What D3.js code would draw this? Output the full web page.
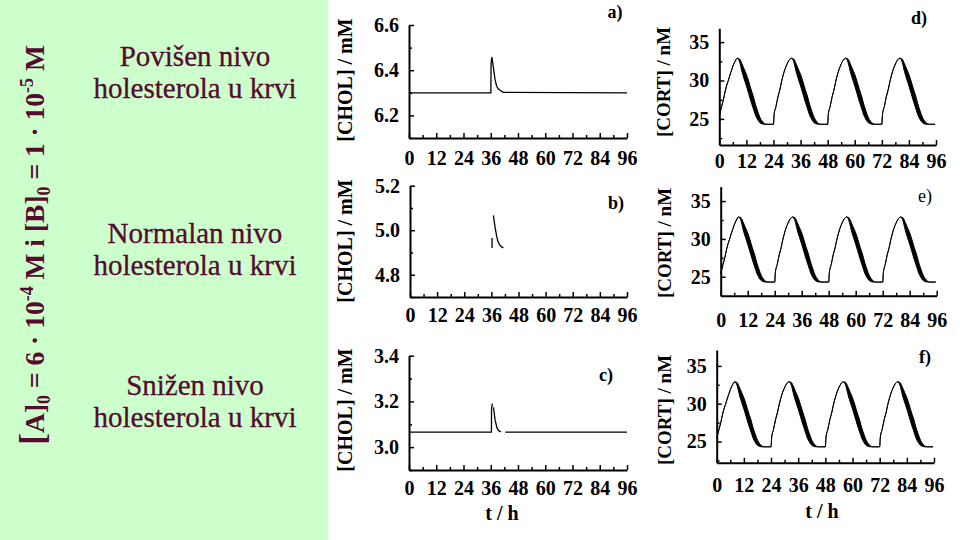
<!DOCTYPE html>
<html><head><meta charset="utf-8">
<script src="https://cdn.jsdelivr.net/npm/d3@7"></script>
<style>body{margin:0;background:#fff}svg{display:block}</style>
</head><body><svg id="c" width="960" height="540"></svg>
<script>
// ---------- data ----------
const hourTicks = [0, 12, 24, 36, 48, 60, 72, 84, 96];
const hourMinorTicks = [6, 18, 30, 42, 54, 66, 78, 90];

const cholHighTicks = [6.2, 6.4, 6.6];
const cholHighMinor = [6.1, 6.3, 6.5];
const cholNormalTicks = [4.8, 5.0, 5.2];
const cholNormalMinor = [4.7, 4.9, 5.1];
const cholLowTicks = [3.0, 3.2, 3.4];
const cholLowMinor = [2.9, 3.1, 3.3];
const cortTicks = [25, 30, 35];
const cortMinor = [22.5, 27.5, 32.5];

// a) elevated cholesterol
const cholHighT = [0, 36.05, 36.15, 36.5, 37.1, 37.9, 38.6, 39.3, 40.1, 41.5, 96];
const cholHighV = [6.3, 6.3, 6.43, 6.458, 6.417, 6.358, 6.329, 6.318, 6.311, 6.302, 6.3];
// b) normal cholesterol (only fragments visible)
const cholNormalT = [36.3, 36.3, null, 36.9, 37.6, 38.4, 38.9, 39.6, 40.4, 41.3];
const cholNormalV = [4.92, 4.965, null, 5.067, 5.015, 4.97, 4.95, 4.935, 4.926, 4.921];
// c) lowered cholesterol
const cholLowT = [0, 36.3, 36.35, 36.7, null, 37.2, 37.9, 38.7, 39.5, 40.5, null, 42.4, 96];
const cholLowV = [3.066, 3.066, 3.17, 3.19, null, 3.174, 3.12, 3.085, 3.072, 3.066, null, 3.066, 3.066];

// d), e), f) cortisol (thin rising branch, thick oscillating falling branch: low/high envelopes)
const cortT = [
  0, 1, 1.8, 2.6, 3.3, 4, 4.7, 5.5, 6.2, 7, 8, 9, 10, 11, 12, 13, 14, 15, 16, 17, 18, 19, 20, 21, 22,
  24, 24.3, 25.1, 26, 26.9, 27.6, 28.3, 29, 29.8, 30.8, 32, 33, 34, 35, 36, 37, 38, 39, 40, 41, 42, 43, 44, 45, 46,
  48, 48.3, 49.1, 50, 50.9, 51.6, 52.3, 53, 53.8, 54.8, 56, 57, 58, 59, 60, 61, 62, 63, 64, 65, 66, 67, 68, 69, 70,
  72, 72.3, 73.1, 74, 74.9, 75.6, 76.3, 77, 77.8, 78.8, 80, 81, 82, 83, 84, 85, 86, 87, 88, 89, 90, 91, 92, 93, 94,
  95.6];
const cortLow = [
  25.4, 26.6, 27.5, 28.6, 29.4, 30.0, 30.7, 31.4, 32.0, 32.5, 32.9, 32.4, 31.2, 30.2, 29.3, 28.3, 27.3, 26.4, 25.5, 24.9, 24.5, 24.35, 24.3, 24.3, 24.3,
  24.3, 25.6, 26.6, 27.9, 28.9, 29.9, 30.7, 31.4, 32.0, 32.6, 32.9, 32.4, 31.2, 30.2, 29.3, 28.3, 27.3, 26.4, 25.5, 24.9, 24.5, 24.35, 24.3, 24.3, 24.3,
  24.3, 25.6, 26.6, 27.9, 28.9, 29.9, 30.7, 31.4, 32.0, 32.6, 32.9, 32.4, 31.2, 30.2, 29.3, 28.3, 27.3, 26.4, 25.5, 24.9, 24.5, 24.35, 24.3, 24.3, 24.3,
  24.3, 25.6, 26.6, 27.9, 28.9, 29.9, 30.7, 31.4, 32.0, 32.6, 32.9, 32.4, 31.2, 30.2, 29.3, 28.3, 27.3, 26.4, 25.5, 24.9, 24.5, 24.35, 24.3, 24.3, 24.3,
  24.3];
const cortHigh = [
  25.4, 26.6, 27.5, 28.6, 29.4, 30.0, 30.7, 31.4, 32.0, 32.5, 32.9, 32.8, 32.2, 31.5, 30.8, 29.9, 28.9, 28.0, 26.9, 26.0, 25.2, 24.7, 24.4, 24.3, 24.3,
  24.3, 25.6, 26.6, 27.9, 28.9, 29.9, 30.7, 31.4, 32.0, 32.6, 32.9, 32.8, 32.2, 31.5, 30.8, 29.9, 28.9, 28.0, 26.9, 26.0, 25.2, 24.7, 24.4, 24.3, 24.3,
  24.3, 25.6, 26.6, 27.9, 28.9, 29.9, 30.7, 31.4, 32.0, 32.6, 32.9, 32.8, 32.2, 31.5, 30.8, 29.9, 28.9, 28.0, 26.9, 26.0, 25.2, 24.7, 24.4, 24.3, 24.3,
  24.3, 25.6, 26.6, 27.9, 28.9, 29.9, 30.7, 31.4, 32.0, 32.6, 32.9, 32.8, 32.2, 31.5, 30.8, 29.9, 28.9, 28.0, 26.9, 26.0, 25.2, 24.7, 24.4, 24.3, 24.3,
  24.3];

const rowTexts = [
  ["Povišen nivo", "holesterola u krvi"],
  ["Normalan nivo", "holesterola u krvi"],
  ["Snižen nivo", "holesterola u krvi"]
];
const panelLetters = ["a)", "b)", "c)", "d)", "e)", "f)"];

// ---------- drawing ----------
const SERIF = "'Liberation Serif','Times New Roman',serif";
const MAROON = "#560a2e";
const svg = d3.select("#c");

svg.append("rect").attr("x", 0).attr("y", 0).attr("width", 328).attr("height", 540).attr("fill", "#ccffcc");

// left row captions
const rowBase = [66, 243, 395];
rowTexts.forEach((lines, i) => {
  lines.forEach((s, j) => {
    svg.append("text").attr("x", 195).attr("y", rowBase[i] + j * 32)
      .attr("text-anchor", "middle").attr("font-family", SERIF).attr("font-size", 29)
      .attr("fill", MAROON).attr("stroke", MAROON).attr("stroke-width", 0.3).text(s);
  });
});

// vertical condition label
const vl = svg.append("text").attr("transform", "translate(44,245) rotate(-90)")
  .attr("text-anchor", "middle").attr("font-family", SERIF).attr("font-weight", "bold")
  .attr("font-size", 27.5).attr("fill", MAROON);
vl.append("tspan").attr("font-size", 36).text("[");
vl.append("tspan").text("A]");
vl.append("tspan").attr("font-size", 18).attr("dy", 6).text("0");
vl.append("tspan").attr("dy", -6).text(" = 6 · 10");
vl.append("tspan").attr("font-size", 18).attr("dy", -11).text("-4");
vl.append("tspan").attr("dy", 11).text(" M i [B]");
vl.append("tspan").attr("font-size", 18).attr("dy", 6).text("0");
vl.append("tspan").attr("dy", -6).text(" = 1 · 10");
vl.append("tspan").attr("font-size", 18).attr("dy", -11).text("-5");
vl.append("tspan").attr("dy", 11).text(" M");

const panels = [
  {x0: 409, x1: 627, yTop: 25, yBot: 138, dom: [6.1, 6.6], ticks: cholHighTicks, minor: cholHighMinor, fmt: ".1f",
   ylab: "[CHOL] / mM", ylx: 352, yly: 80, lgap: 13, letter: [615, 18], kind: "chol", T: cholHighT, V: cholHighV},
  {x0: 410, x1: 627, yTop: 185.7, yBot: 297, dom: [4.7, 5.2], ticks: cholNormalTicks, minor: cholNormalMinor, fmt: ".1f",
   ylab: "[CHOL] / mM", ylx: 352, yly: 241, lgap: 10.5, letter: [616, 209], kind: "chol", T: cholNormalT, V: cholNormalV},
  {x0: 409, x1: 627, yTop: 355.7, yBot: 470, dom: [2.9, 3.4], ticks: cholLowTicks, minor: cholLowMinor, fmt: ".1f",
   ylab: "[CHOL] / mM", ylx: 352, yly: 410, lgap: 11, letter: [606, 381], kind: "chol", T: cholLowT, V: cholLowV, tlab: [502, 520]},
  {x0: 719.3, x1: 936, yTop: 28.3, yBot: 145, dom: [21.6, 36.8], ticks: cortTicks, minor: cortMinor, fmt: "d",
   ylab: "[CORT] / nM", ylx: 670, yly: 82, lgap: 9, letter: [919, 23.5], kind: "cort"},
  {x0: 720.7, x1: 936.7, yTop: 186.7, yBot: 295.7, dom: [22.5, 36.9], ticks: cortTicks, minor: cortMinor, fmt: "d",
   ylab: "[CORT] / nM", ylx: 671, yly: 243, lgap: 17, letter: [925, 202], kind: "cort", lightLetter: true},
  {x0: 716.7, x1: 934, yTop: 350, yBot: 462.7, dom: [22.2, 37.1], ticks: cortTicks, minor: cortMinor, fmt: "d",
   ylab: "[CORT] / nM", ylx: 671, yly: 410, lgap: 15, letter: [925, 363], kind: "cort", tlab: [822, 518]}
];

function styleAxis(g, fs) {
  g.select(".domain").attr("stroke", "#000").attr("stroke-width", 2);
  g.selectAll(".tick line").attr("stroke", "#000").attr("stroke-width", 1.5);
  g.selectAll(".tick text").attr("font-family", SERIF).attr("font-weight", "bold")
    .attr("font-size", fs).attr("fill", "#000");
}

panels.forEach((p, i) => {
  const x = d3.scaleLinear().domain([0, 96]).range([p.x0, p.x1]);
  const y = d3.scaleLinear().domain(p.dom).range([p.yBot, p.yTop]);
  const g = svg.append("g");

  // minor ticks
  g.append("g").attr("transform", `translate(0,${p.yBot})`)
    .call(d3.axisBottom(x).tickValues(hourMinorTicks).tickSize(-3).tickSizeOuter(0).tickFormat(""))
    .call(a => { a.select(".domain").remove(); a.selectAll(".tick line").attr("stroke", "#000").attr("stroke-width", 1.5); });
  g.append("g").attr("transform", `translate(${p.x0},0)`)
    .call(d3.axisLeft(y).tickValues(p.minor).tickSize(-3).tickSizeOuter(0).tickFormat(""))
    .call(a => { a.select(".domain").remove(); a.selectAll(".tick line").attr("stroke", "#000").attr("stroke-width", 1.5); });

  // major axes
  g.append("g").attr("transform", `translate(0,${p.yBot})`)
    .call(d3.axisBottom(x).tickValues(hourTicks).tickSize(-5).tickSizeOuter(0).tickPadding(p.lgap))
    .call(a => styleAxis(a, 20));
  g.append("g").attr("transform", `translate(${p.x0},0)`)
    .call(d3.axisLeft(y).tickValues(p.ticks).tickSize(-5).tickSizeOuter(0).tickPadding(10).tickFormat(d3.format(p.fmt)))
    .call(a => styleAxis(a, 20));

  // y label
  g.append("text").attr("transform", `translate(${p.ylx},${p.yly}) rotate(-90)`)
    .attr("text-anchor", "middle").attr("font-family", SERIF).attr("font-weight", "bold")
    .attr("font-size", p.kind === "chol" ? 20 : 19).attr("fill", "#000").text(p.ylab);

  // panel letter
  g.append("text").attr("x", p.letter[0]).attr("y", p.letter[1]).attr("text-anchor", "middle")
    .attr("font-family", SERIF).attr("font-weight", p.lightLetter ? "normal" : "bold")
    .attr("font-size", 18).attr("fill", "#000").text(panelLetters[i]);

  if (p.tlab) {
    g.append("text").attr("x", p.tlab[0]).attr("y", p.tlab[1]).attr("text-anchor", "middle")
      .attr("font-family", SERIF).attr("font-weight", "bold").attr("font-size", 20)
      .attr("fill", "#000").text("t / h");
  }

  if (p.kind === "chol") {
    const pts = p.T.map((t, k) => ({t: t, v: p.V[k]}));
    const line = d3.line().defined(d => d.t != null && d.v != null)
      .x(d => x(d.t)).y(d => y(d.v));
    g.append("path").attr("d", line(pts)).attr("fill", "none")
      .attr("stroke", "#000").attr("stroke-width", 1.3);
  } else {
    const pts = cortT.map((t, k) => ({t: t, lo: cortLow[k], hi: cortHigh[k]}));
    const area = d3.area().x(d => x(d.t)).y0(d => y(d.lo)).y1(d => y(d.hi)).curve(d3.curveMonotoneX);
    g.append("path").attr("d", area(pts)).attr("fill", "#000");
    const lLo = d3.line().x(d => x(d.t)).y(d => y(d.lo)).curve(d3.curveMonotoneX);
    const lHi = d3.line().x(d => x(d.t)).y(d => y(d.hi)).curve(d3.curveMonotoneX);
    g.append("path").attr("d", lLo(pts)).attr("fill", "none").attr("stroke", "#000").attr("stroke-width", 1);
    g.append("path").attr("d", lHi(pts)).attr("fill", "none").attr("stroke", "#000").attr("stroke-width", 1);
  }
});
</script>
</body></html>
